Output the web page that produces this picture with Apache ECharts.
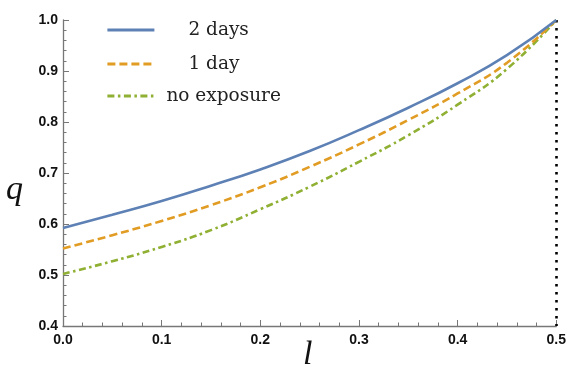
<!DOCTYPE html>
<html>
<head>
<meta charset="utf-8">
<style>html,body{margin:0;padding:0;background:#fff}#c{width:569px;height:372px}</style>
<script src="https://cdn.jsdelivr.net/npm/echarts@6/dist/echarts.min.js"></script>
</head>
<body>
<div id="c"></div>
<script>
var lValues = [0, 0.05, 0.1, 0.15, 0.2, 0.25, 0.3, 0.35, 0.4, 0.45, 0.5];
var qTwoDays = [0.592, 0.618, 0.645, 0.675, 0.707, 0.743, 0.784, 0.828, 0.876, 0.931, 1.0];
var qOneDay = [0.552, 0.578, 0.606, 0.637, 0.672, 0.712, 0.756, 0.804, 0.856, 0.916, 1.0];
var qNoExposure = [0.502, 0.527, 0.555, 0.588, 0.629, 0.673, 0.722, 0.774, 0.834, 0.904, 1.0];
var seriesNames = ['2 days', '1 day', 'no exposure'];
var xTicks = [0, 0.1, 0.2, 0.3, 0.4, 0.5];
var yTicks = [0.4, 0.5, 0.6, 0.7, 0.8, 0.9, 1.0];
var boundaryL = 0.5;

function pairs(v) { return lValues.map(function (l, i) { return [l, v[i]]; }); }

var colors = ['#5E81B5', '#E19C24', '#8FB032'];
var dashes = ['solid', [8, 4], [7, 3.5, 2.5, 3.5]];
var dataSets = [qTwoDays, qOneDay, qNoExposure];
var legendTops = [27.5, 61.5, 93.5];
var legendPad = [29, 29, 7];

var series = dataSets.map(function (d, i) {
  return {
    name: seriesNames[i], type: 'line', smooth: true, symbol: 'none',
    data: pairs(d), z: 5 - i,
    lineStyle: { color: colors[i], width: 2.6, type: dashes[i], cap: 'butt' },
    itemStyle: { color: colors[i] }
  };
});
series.push({
  type: 'line', data: [], symbol: 'none', silent: true,
  markLine: {
    silent: true, symbol: 'none', label: { show: false },
    lineStyle: { color: '#000', width: 2.6, type: [2.6, 5.4], cap: 'butt' },
    data: [[{ coord: [boundaryL, yTicks[yTicks.length - 1]] }, { coord: [boundaryL, yTicks[0]] }]]
  }
});

var legends = seriesNames.map(function (n, i) {
  var r = {};
  r['t' + i] = { fontFamily: 'DejaVu Serif', fontSize: 18.5, color: '#222', padding: [0, 0, 0, legendPad[i]] };
  return {
    data: [n], left: 101, top: legendTops[i] - 7 - 5, orient: 'vertical',
    itemWidth: 47, itemHeight: 14,
    itemStyle: { opacity: 0, borderWidth: 0 },
    lineStyle: { width: 2.8 },
    formatter: function (name) { return '{t' + i + '|' + name + '}'; },
    textStyle: { rich: r }
  };
});

var axisGray = '#777';
var chart = echarts.init(document.getElementById('c'), null, { renderer: 'canvas' });
chart.setOption({
  animation: false,
  legend: legends,
  grid: { left: 63, right: 12.5, top: 20, bottom: 46, containLabel: false },
  xAxis: {
    type: 'value', min: xTicks[0], max: xTicks[xTicks.length - 1], interval: 0.1,
    axisLine: { lineStyle: { color: axisGray, width: 1.3 } },
    axisTick: { inside: true, length: 6, lineStyle: { color: axisGray } },
    minorTick: { show: true, splitNumber: 5, length: 3.5, lineStyle: { color: axisGray } },
    splitLine: { show: false },
    axisLabel: { margin: 7, fontFamily: 'Liberation Sans', fontWeight: 'bold', fontSize: 14, color: '#111',
      formatter: function (v) { return v.toFixed(1); } }
  },
  yAxis: {
    type: 'value', min: yTicks[0], max: yTicks[yTicks.length - 1], interval: 0.1,
    axisLine: { show: true, lineStyle: { color: axisGray, width: 1.3 } },
    axisTick: { show: true, inside: true, length: 6, lineStyle: { color: axisGray } },
    minorTick: { show: true, splitNumber: 5, length: 3.5, lineStyle: { color: axisGray } },
    splitLine: { show: false },
    axisLabel: { margin: 5, fontFamily: 'Liberation Sans', fontWeight: 'bold', fontSize: 14, color: '#111',
      formatter: function (v) { return v.toFixed(1); } }
  },
  graphic: [
    { type: 'text', left: 6, top: 173, style: { text: 'q', font: 'italic 34px "Liberation Serif"', fill: '#111' } },
    { type: 'text', left: 303, top: 338, style: { text: 'l', font: 'italic 34px "Liberation Serif"', fill: '#111' } }
  ],
  series: series
});
</script>
</body>
</html>
